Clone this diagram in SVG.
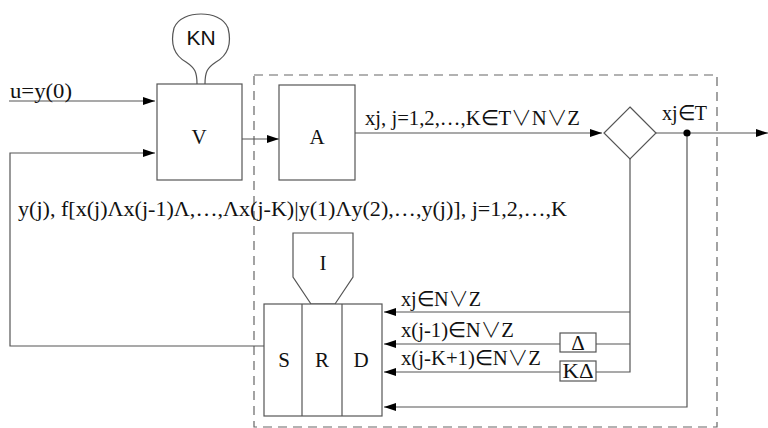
<svg xmlns="http://www.w3.org/2000/svg" width="768" height="428" viewBox="0 0 768 428">
<defs>
<marker id="ah" viewBox="0 0 12 8" refX="12" refY="4" markerWidth="12" markerHeight="8" markerUnits="userSpaceOnUse" orient="auto">
<path d="M0,0 L12,4 L0,8 Z" fill="#000"/>
</marker>
<style>
.ln{fill:none;stroke:#555;stroke-width:1.2}
.ar{fill:none;stroke:#555;stroke-width:1.2;marker-end:url(#ah)}
.bx{fill:#fff;stroke:#555;stroke-width:1.2}
.t{font-family:"Liberation Serif","Times New Roman",serif;font-size:21px;fill:#111}
.s{font-family:"Liberation Sans",Arial,sans-serif;font-size:21px;fill:#111}
.dash{fill:none;stroke:#666;stroke-width:1.2;stroke-dasharray:9,6}
.o{font-family:"Noto Sans CJK SC","DejaVu Sans",sans-serif;font-weight:300}
</style>
</defs>
<rect class="dash" x="254" y="75" width="463" height="352"/>
<g id="connectors">
<line class="ar" x1="9" y1="101" x2="155" y2="101"/>
<polyline class="ar" points="264,346 10,346 10,153 155,153"/>
<line class="ar" x1="242" y1="139" x2="279" y2="139"/>
<line class="ar" x1="355" y1="133" x2="602" y2="133"/>
<line class="ar" x1="656" y1="133" x2="768" y2="133"/>
<polyline class="ln" points="630,159 630,372 596,372"/>
<line class="ar" x1="630" y1="312" x2="384" y2="312"/>
<line class="ln" x1="630" y1="344" x2="596" y2="344"/>
<line class="ar" x1="560" y1="344" x2="384" y2="344"/>
<line class="ar" x1="560" y1="372" x2="384" y2="372"/>
<polyline class="ar" points="687,133 687,407 384,407"/>
<circle cx="687" cy="133" r="3.6" fill="#000"/>
</g>
<g id="KN">
<path class="bx" d="M197,84 C197,72 195,68 186,62 C172,54 171,40 174,28 C178,18 190,14 201,14 C212,14 224,18 228,28 C231,40 230,54 216,62 C207,68 205,72 205,84"/>
<text class="s" x="201" y="45" text-anchor="middle">KN</text>
</g>
<g id="V">
<rect class="bx" x="157" y="84" width="85" height="96"/>
<text class="t" x="199" y="144" text-anchor="middle">V</text>
</g>
<g id="A">
<rect class="bx" x="279" y="85" width="76" height="95"/>
<text class="t" x="317" y="144" text-anchor="middle">A</text>
</g>
<g id="diamond">
<path class="bx" d="M630,107 L656,133 L630,159 L604,133 Z"/>
</g>
<g id="I">
<path class="bx" d="M293,233 L353,233 L353,277 L335,304 L311,304 L293,277 Z"/>
<text class="t" x="323" y="270" text-anchor="middle">I</text>
</g>
<g id="SRD">
<rect class="bx" x="264" y="304" width="118" height="112"/>
<line class="ln" x1="302" y1="304" x2="302" y2="416"/>
<line class="ln" x1="342" y1="304" x2="342" y2="416"/>
<text class="t" x="284" y="367" text-anchor="middle">S</text>
<text class="t" x="322" y="367" text-anchor="middle">R</text>
<text class="t" x="361" y="367" text-anchor="middle">D</text>
</g>
<g id="delta">
<rect class="bx" x="560" y="333" width="36" height="19"/>
<text class="t" x="578" y="350" text-anchor="middle">Δ</text>
</g>
<g id="kdelta">
<rect class="bx" x="560" y="361" width="36" height="20"/>
<text class="t" x="578" y="378" text-anchor="middle" textLength="31" lengthAdjust="spacingAndGlyphs">KΔ</text>
</g>
<g id="labels">
<text class="t" x="10" y="98" textLength="62" lengthAdjust="spacingAndGlyphs">u=y(0)</text>
<text class="t" x="365" y="125" textLength="215" lengthAdjust="spacingAndGlyphs">xj, j=1,2,…,K∈T<tspan class="o">∨</tspan>N<tspan class="o">∨</tspan>Z</text>
<text class="t" x="662" y="120" textLength="45" lengthAdjust="spacingAndGlyphs">xj∈T</text>
<text class="t" x="18" y="216" textLength="549" lengthAdjust="spacingAndGlyphs">y(j), f[x(j)Λx(j-1)Λ,…,Λx(j-K)|y(1)Λy(2),…,y(j)], j=1,2,…,K</text>
<text class="t" x="401" y="306" textLength="80" lengthAdjust="spacingAndGlyphs">xj∈N<tspan class="o">∨</tspan>Z</text>
<text class="t" x="401" y="337" textLength="113" lengthAdjust="spacingAndGlyphs">x(j-1)∈N<tspan class="o">∨</tspan>Z</text>
<text class="t" x="401" y="365" textLength="140" lengthAdjust="spacingAndGlyphs">x(j-K+1)∈N<tspan class="o">∨</tspan>Z</text>
</g>
</svg>
